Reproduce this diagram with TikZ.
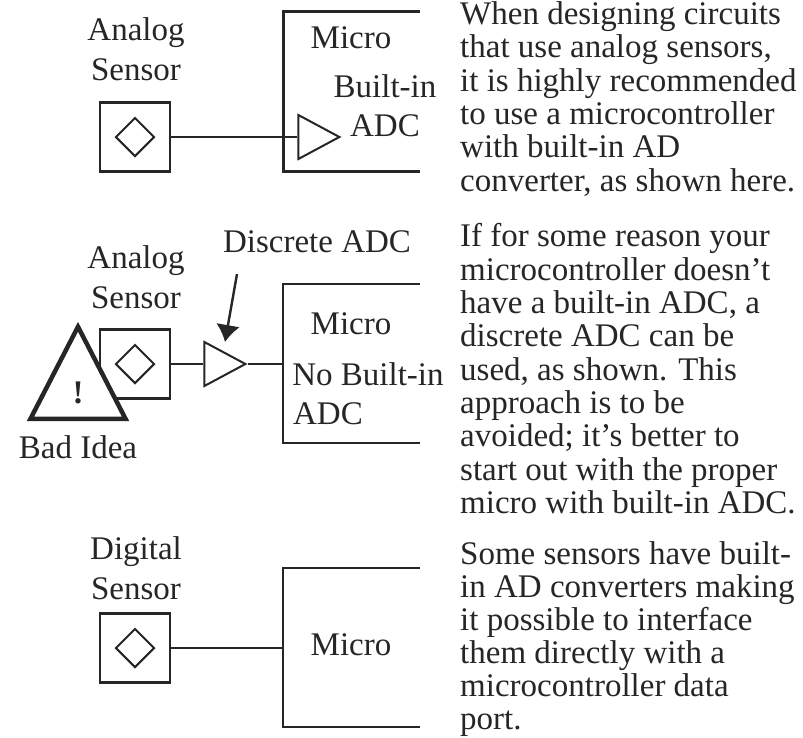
\documentclass[tikz,border=0pt]{standalone}
\usepackage{fontspec}
\setmainfont{Liberation Serif}
\usepackage{xcolor}
\usetikzlibrary{shapes.geometric,arrows.meta}

\begin{document}
\begin{tikzpicture}[
    x=1pt, y=-1pt,
    every node/.style={text=black!85},
    label/.style={font=\fontsize{33}{40}\selectfont, inner sep=0pt, align=center},
    note/.style={font=\fontsize{33}{33.3}\selectfont, inner sep=0pt, align=left, anchor=north west},
    sensor/.style={draw=black!85, line width=2.4pt, minimum width=70pt, minimum height=69pt, inner sep=0pt},
    gem/.style={draw=black!85, diamond, line width=2pt, minimum width=39pt, minimum height=39pt, inner sep=0pt},
    amp/.style={draw=black!85, isosceles triangle, isosceles triangle stretches, line width=2pt, minimum width=44pt, minimum height=41pt, inner sep=0pt, anchor=apex},
    wire/.style={draw=black!85, line width=2.4pt},
    micro/.style={draw=black!85, line width=2.6pt}
]
\useasboundingbox (0,0) rectangle (803,737);

% built-in ADC
\node[label] (sensA) at (136,49) {Analog\\Sensor};
\node[sensor] (boxA) at (135,137) {};
\node[gem] (gemA) at (135,137) {};
\coordinate (tlA) at (420,11);
\coordinate (blA) at (420,171);
\draw[micro, line width=3pt] (tlA) -- (283,11) -- (283,171) -- (blA);
\node[amp] (ampA) at (342,137) {};
\draw[wire] (boxA) -- (ampA.lower side);
\node[label] (microA) at (351,38) {Micro};
\node[label] (builtA) at (385,86) {Built-in};
\node[label] (adcA) at (385,126) {ADC};
\node[note] (noteA) at (460,1.5) {When designing circuits\\that use analog sensors,\\it is highly recommended\\to use a microcontroller\\with built-in AD\\converter, as shown here.};

% discrete ADC
\node[label] (sensB) at (136,277) {Analog\\Sensor};
\node[sensor] (boxB) at (135,364) {};
\node[gem] (gemB) at (135,364) {};
\node[amp] (ampB) at (248,364) {};
\coordinate (tlB) at (420,284);
\coordinate (blB) at (420,443);
\coordinate (jointB) at (283,364);
\draw[micro] (tlB) -- (283,284) -- (283,443) -- (blB);
\draw[wire] (boxB) -- (ampB.lower side);
\draw[wire] (ampB.apex) -- (jointB);
\node[label] (discB) at (317,242) {Discrete ADC};
\coordinate (tailB) at (237,274);
\coordinate (tipB) at (225,342);
\draw[wire, -{Latex[length=17pt,width=24pt]}] (tailB) -- (tipB);
\node[label] (microB) at (351,324) {Micro};
\node[label] (builtB) at (368,374) {No Built-in};
\node[label] (adcB) at (328,414) {ADC};
\node[draw=black!85, fill=white, isosceles triangle, isosceles triangle stretches, shape border rotate=90, line width=4.5pt, minimum width=95pt, minimum height=92pt, inner sep=0pt, anchor=lower side] (warnB) at (78,421) {};
\node[label, font=\fontsize{33}{40}\bfseries\selectfont] (bangB) at (78,393) {!};
\node[label] (badB) at (78,447) {Bad Idea};
\node[note] (noteB) at (460,223.5) {If for some reason your\\microcontroller doesn't\\have a built-in ADC, a\\discrete ADC can be\\used, as shown. This\\approach is to be\\avoided; it's better to\\start out with the proper\\micro with built-in ADC.};

% digital sensor
\node[label] (sensC) at (136,568) {Digital\\Sensor};
\node[sensor] (boxC) at (135,648) {};
\node[gem] (gemC) at (135,648) {};
\coordinate (tlC) at (420,568);
\coordinate (blC) at (420,727);
\coordinate (jointC) at (283,648);
\draw[micro] (tlC) -- (283,568) -- (283,727) -- (blC);
\draw[wire] (boxC) -- (jointC);
\node[label] (microC) at (351,645) {Micro};
\node[note, font=\fontsize{33}{33}\selectfont] (noteC) at (460,541.5) {Some sensors have built-\\in AD converters making\\it possible to interface\\them directly with a\\microcontroller data\\port.};
\end{tikzpicture}
\end{document}
